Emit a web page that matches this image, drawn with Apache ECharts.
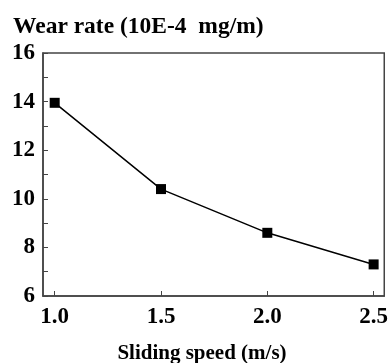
<!DOCTYPE html>
<html>
<head>
<meta charset="utf-8">
<script src="https://cdn.jsdelivr.net/npm/echarts@6/dist/echarts.min.js"></script>
<style>html,body{margin:0;padding:0;background:#fff}#c{width:391px;height:363px}</style>
</head>
<body>
<div id="c"></div>
<script>
var speeds = [1.0, 1.5, 2.0, 2.5];
var wearRate = [13.95, 10.4, 8.6, 7.3];
var xTicks = [1.0, 1.5, 2.0, 2.5];
var yTitle = 'Wear rate (10E-4  mg/m)';
var xTitle = 'Sliding speed (m/s)';

var font = 'Liberation Serif';
var chart = echarts.init(document.getElementById('c'), null, {renderer: 'canvas'});
chart.setOption({
  animation: false,
  backgroundColor: '#fff',
  title: [
    {text: yTitle, left: 13, top: 15, padding: 0, textStyle: {fontFamily: font, fontWeight: 'bold', fontSize: 23.5, color: '#000'}},
    {text: xTitle, left: 202, top: 343, padding: 0, textAlign: 'center', textStyle: {fontFamily: font, fontWeight: 'bold', fontSize: 21, color: '#000'}}
  ],
  grid: {left: 43, right: 5, top: 53, bottom: 67, show: true, borderColor: '#444', borderWidth: 1.5, backgroundColor: 'transparent'},
  xAxis: {
    type: 'value', min: 0.945, max: 2.55,
    splitLine: {show: false},
    axisLine: {lineStyle: {color: '#444', width: 1.5}},
    axisTick: {inside: true, length: 5, customValues: xTicks, lineStyle: {color: '#444'}},
    axisLabel: {customValues: xTicks, formatter: function (v) { return v.toFixed(1); }, margin: 10,
      fontFamily: font, fontWeight: 'bold', fontSize: 23, color: '#000'}
  },
  yAxis: {
    type: 'value', min: 6, max: 16, interval: 2,
    splitLine: {show: false},
    axisLine: {show: true, lineStyle: {color: '#444', width: 1.5}},
    axisTick: {inside: true, length: 5, lineStyle: {color: '#444'}},
    minorTick: {show: true, splitNumber: 2, length: 5, lineStyle: {color: '#444'}},
    axisLabel: {margin: 8, fontFamily: font, fontWeight: 'bold', fontSize: 23, color: '#000'}
  },
  series: [{
    type: 'line',
    data: speeds.map(function (s, i) { return [s, wearRate[i]]; }),
    symbol: 'rect', symbolSize: 10,
    lineStyle: {color: '#000', width: 1.5},
    itemStyle: {color: '#000'}
  }]
});
</script>
</body>
</html>
